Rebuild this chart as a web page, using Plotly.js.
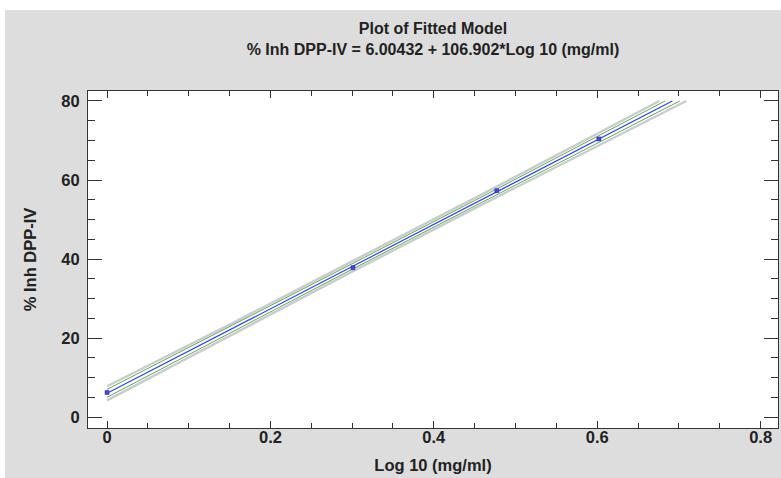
<!DOCTYPE html>
<html>
<head>
<meta charset="utf-8">
<script src="https://cdn.plot.ly/plotly-3.0.1.min.js"></script>
<style>
  html, body { margin: 0; padding: 0; background: #ffffff; width: 781px; height: 478px; overflow: hidden; }
  #chart { position: absolute; left: 5px; top: 10px; width: 776px; height: 468px; }
</style>
</head>
<body>
<div id="chart"></div>
<script>
// Observed data
const obsX = [0, 0.30103, 0.47712, 0.60206];
const obsY = [6.2, 37.8, 57.3, 70.4];

// Fitted line (ends where it reaches 80)
const fitX = [0, 0.692];
const fitY = [6.0, 80.0];

// Confidence limits (green)
const confUpX = [0, 0.15, 0.3, 0.45, 0.6, 0.683];
const confUpY = [7.0, 22.8, 38.8, 54.8, 71.0, 80.0];
const confLoX = [0, 0.15, 0.3, 0.45, 0.6, 0.701];
const confLoY = [5.0, 21.3, 37.4, 53.4, 69.3, 80.0];

// Prediction limits (gray)
const predUpX = [0, 0.15, 0.3, 0.45, 0.6, 0.676];
const predUpY = [7.8, 23.4, 39.4, 55.4, 71.7, 80.0];
const predLoX = [0, 0.15, 0.3, 0.45, 0.6, 0.709];
const predLoY = [4.2, 20.6, 36.8, 52.8, 68.6, 80.0];

const xTicks = [0, 0.2, 0.4, 0.6, 0.8];
const xTickText = ['0', '0.2', '0.4', '0.6', '0.8'];
const yTicks = [0, 20, 40, 60, 80];
const yTickText = ['0', '20', '40', '60', '80'];

const grayLine = {color: 'rgba(190,190,190,0.8)', width: 2.4};
const greenLine = {color: 'rgb(85,175,85)', width: 1};

const traces = [
  {x: predUpX, y: predUpY, mode: 'lines', line: grayLine, hoverinfo: 'skip'},
  {x: predLoX, y: predLoY, mode: 'lines', line: grayLine, hoverinfo: 'skip'},
  {x: confUpX, y: confUpY, mode: 'lines', line: greenLine, hoverinfo: 'skip'},
  {x: confLoX, y: confLoY, mode: 'lines', line: greenLine, hoverinfo: 'skip'},
  {x: fitX, y: fitY, mode: 'lines', line: {color: 'rgb(60,60,255)', width: 1.2}},
  {x: obsX, y: obsY, mode: 'markers',
   marker: {symbol: 'square', size: 4, color: 'rgb(70,70,230)', line: {color: 'rgb(30,30,180)', width: 0.5}}}
];

const axisFont = {family: 'Liberation Sans, Arial, sans-serif', size: 16.5, color: '#222', weight: 'bold'};

const layout = {
  width: 776, height: 468,
  paper_bgcolor: 'rgb(221,221,221)',
  plot_bgcolor: '#ffffff',
  showlegend: false,
  margin: {l: 83, r: 3, t: 81, b: 50},
  title: {
    text: 'Plot of Fitted Model<br>% Inh DPP-IV = 6.00432 + 106.902*Log 10 (mg/ml)',
    font: {family: 'Liberation Sans, Arial, sans-serif', size: 16, color: '#222', weight: 'bold', lineposition: 'none'},
    x: 0.5, xref: 'paper', xanchor: 'center',
    y: 0.9486, yref: 'container', yanchor: 'middle'
  },
  xaxis: {
    range: [-0.0233, 0.8213],
    tickmode: 'array', tickvals: xTicks, ticktext: xTickText,
    ticks: 'inside', ticklen: 7, tickcolor: '#333', tickwidth: 1,
    minor: {dtick: 0.05, tick0: 0, ticks: 'inside', ticklen: 5, tickcolor: '#333', tickwidth: 1, showgrid: false},
    showline: true, linecolor: '#333', linewidth: 1, mirror: 'allticks',
    showgrid: false, zeroline: false,
    tickfont: axisFont,
    ticklabelstandoff: -6,
    title: {text: 'Log 10 (mg/ml)', font: axisFont, standoff: 14}
  },
  yaxis: {
    range: [-2.78, 82.53],
    tickmode: 'array', tickvals: yTicks, ticktext: yTickText,
    ticks: 'inside', ticklen: 14, tickcolor: '#333', tickwidth: 1,
    minor: {dtick: 5, tick0: 0, ticks: 'inside', ticklen: 7, tickcolor: '#333', tickwidth: 1, showgrid: false},
    showline: true, linecolor: '#333', linewidth: 1, mirror: 'allticks',
    showgrid: false, zeroline: false,
    tickfont: axisFont,
    ticklabelstandoff: 4,
    title: {text: '% Inh DPP-IV', font: axisFont, standoff: 20}
  }
};

Plotly.newPlot('chart', traces, layout, {displayModeBar: false, staticPlot: true});
</script>
</body>
</html>
